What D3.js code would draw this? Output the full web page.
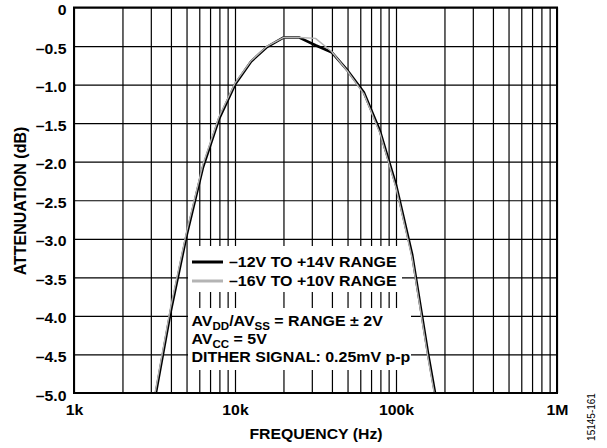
<!DOCTYPE html>
<html>
<head>
<meta charset="utf-8">
<script src="https://cdn.jsdelivr.net/npm/d3@7"></script>
<style>
  html, body { margin: 0; padding: 0; background: #fff; }
  svg { display: block; }
  text { font-family: "Liberation Sans", Arial, Helvetica, sans-serif; }
</style>
</head>
<body>
<svg id="chart" width="607" height="448"></svg>
<script>
// ---------- data ----------
const frequencies = [3162, 3981, 5012, 6310, 7943, 10000, 12589, 15849, 19953, 25119, 31623, 39811, 50119, 63096, 79433, 100000, 125893, 158489, 199526];
const range12to14 = [-5.10, -3.95, -2.95, -2.08, -1.45, -1.00, -0.70, -0.51, -0.39, -0.39, -0.49, -0.58, -0.82, -1.10, -1.60, -2.30, -3.20, -4.50, -5.68];
const range16to10 = [-5.04, -3.89, -2.90, -2.04, -1.42, -0.98, -0.69, -0.50, -0.39, -0.39, -0.40, -0.57, -0.83, -1.12, -1.63, -2.34, -3.25, -4.56, -5.74];
const seriesNames = ["–12V TO +14V RANGE", "–16V TO +10V RANGE"];
const seriesColors = ["#000000", "#b4b4b4"];
const yTicks = [0, -0.5, -1.0, -1.5, -2.0, -2.5, -3.0, -3.5, -4.0, -4.5, -5.0];
const xGridTicks = [1e3,2e3,3e3,4e3,5e3,6e3,7e3,8e3,9e3,1e4,2e4,3e4,4e4,5e4,6e4,7e4,8e4,9e4,1e5,2e5,3e5,4e5,5e5,6e5,7e5,8e5,9e5,1e6];
const xTickLabels = {1000: "1k", 10000: "10k", 100000: "100k", 1000000: "1M"};

// ---------- layout ----------
const svg = d3.select("#chart");
const L = 74, R = 557, T = 7.5, B = 393;
const SX = 1.13;
const x = d3.scaleLog().domain([1e3, 1e6]).range([L, R]);
const y = d3.scaleLinear().domain([0, -5]).range([T, B]);

function stretchedText(parent, px, py, str, size, anchor, sx) {
  return parent.append("g")
    .attr("transform", `translate(${px},${py}) scale(${sx},1)`)
    .append("text")
    .attr("text-anchor", anchor)
    .attr("font-size", size)
    .attr("font-weight", "bold")
    .attr("fill", "#000")
    .text(str);
}

// ---------- grid via axes ----------
const yAxis = d3.axisLeft(y).tickValues(yTicks).tickSize(-(R - L))
  .tickFormat(d => d === 0 ? "0" : "–" + Math.abs(d).toFixed(1));
const gy = svg.append("g").attr("transform", `translate(${L},0)`).call(yAxis);
gy.select(".domain").remove();
gy.selectAll("line").attr("stroke", "#000").attr("stroke-width", 1.2);
gy.selectAll("text")
  .attr("x", -7.5 / SX).attr("dy", null).attr("y", 7)
  .attr("transform", `scale(${SX},1)`)
  .attr("font-size", 14).attr("font-weight", "bold").attr("fill", "#000")
  .attr("font-family", "Liberation Sans, Arial, sans-serif");

const xAxis = d3.axisBottom(x).tickValues(xGridTicks).tickSize(-(B - T))
  .tickFormat(d => xTickLabels[d] || "");
const gx = svg.append("g").attr("transform", `translate(0,${B})`).call(xAxis);
gx.select(".domain").remove();
gx.selectAll("line").attr("stroke", "#000").attr("stroke-width", 1.2);
gx.selectAll("text")
  .attr("y", 22).attr("dy", null)
  .attr("transform", `scale(${SX},1)`)
  .attr("font-size", 14).attr("font-weight", "bold").attr("fill", "#000")
  .attr("font-family", "Liberation Sans, Arial, sans-serif");
// axis text x is positioned at 0 of each tick g; compensate scale
gx.selectAll(".tick").each(function(d) {
  d3.select(this).select("text").attr("x", 0);
});

// ---------- white boxes behind legend / notes ----------
svg.append("rect").attr("x", 188).attr("y", 246).attr("width", 214).attr("height", 46).attr("fill", "#fff");
svg.append("rect").attr("x", 188).attr("y", 308).attr("width", 223).attr("height", 62).attr("fill", "#fff");

// ---------- curves ----------
svg.append("clipPath").attr("id", "plotclip").append("rect")
  .attr("x", L).attr("y", T).attr("width", R - L).attr("height", B - T);
const line = d3.line().x(d => x(d[0])).y(d => y(d[1]));
const s1 = frequencies.map((f, i) => [f, range12to14[i]]);
const s2 = frequencies.map((f, i) => [f, range16to10[i]]);
const cg = svg.append("g").attr("clip-path", "url(#plotclip)");
cg.append("path").datum(s1).attr("d", line).attr("fill", "none")
  .attr("stroke", seriesColors[0]).attr("stroke-width", 2.6).attr("stroke-linejoin", "round");
cg.append("path").datum(s2).attr("d", line).attr("fill", "none")
  .attr("stroke", seriesColors[1]).attr("stroke-width", 1.4).attr("stroke-linejoin", "round");

// ---------- border ----------
svg.append("rect").attr("x", L).attr("y", T).attr("width", R - L).attr("height", B - T)
  .attr("fill", "none").attr("stroke", "#000").attr("stroke-width", 2);

// ---------- legend ----------
const legY = [262, 281];
seriesNames.forEach((name, i) => {
  svg.append("line").attr("x1", 192).attr("x2", 223).attr("y1", legY[i]).attr("y2", legY[i])
    .attr("stroke", seriesColors[i]).attr("stroke-width", 3);
  stretchedText(svg, 229, legY[i] + 5.2, name, 14.5, "start", 1.1);
});

// ---------- notes ----------
const n1 = stretchedText(svg, 191.5, 326, "", 14.5, "start", 1.1);
n1.append("tspan").text("AV");
n1.append("tspan").attr("font-size", 10.5).attr("dy", 3.5).text("DD");
n1.append("tspan").attr("dy", -3.5).text("/AV");
n1.append("tspan").attr("font-size", 10.5).attr("dy", 3.5).text("SS");
n1.append("tspan").attr("dy", -3.5).text(" = RANGE ± 2V");
const n2 = stretchedText(svg, 191.5, 344.3, "", 14.5, "start", 1.1);
n2.append("tspan").text("AV");
n2.append("tspan").attr("font-size", 10.5).attr("dy", 3.5).text("CC");
n2.append("tspan").attr("dy", -3.5).text(" = 5V");
stretchedText(svg, 191.5, 361.7, "DITHER SIGNAL: 0.25mV p-p", 14.5, "start", 1.1);

// ---------- axis titles ----------
stretchedText(svg, 316, 439.3, "FREQUENCY (Hz)", 14, "middle", SX);
svg.append("text").attr("transform", "translate(26,201) rotate(-90)")
  .attr("text-anchor", "middle").attr("font-size", 16).attr("font-weight", "bold")
  .attr("fill", "#000").text("ATTENUATION (dB)");
svg.append("text").attr("transform", "translate(595,417) rotate(-90)")
  .attr("text-anchor", "middle").attr("font-size", 10).attr("fill", "#000")
  .text("15145-161");
</script>
</body>
</html>
